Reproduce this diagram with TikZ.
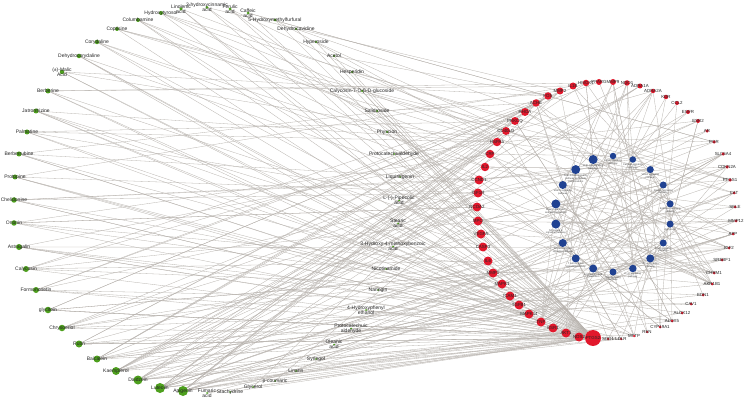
\documentclass[tikz,border=0pt]{standalone}
\usepackage{fontspec}
\setmainfont{Liberation Sans}
\usetikzlibrary{backgrounds}
\definecolor{gcol}{RGB}{78,160,30}
\definecolor{rcol}{RGB}{226,24,44}
\definecolor{bcol}{RGB}{32,66,146}
\definecolor{ecol}{RGB}{184,179,174}
\begin{document}
\begin{tikzpicture}[x=1pt,y=-1pt,
  gn/.style={circle,fill=gcol,inner sep=0pt,minimum size=#1pt},
  rn/.style={circle,fill=rcol,inner sep=0pt,minimum size=#1pt},
  bn/.style={circle,fill=bcol,inner sep=0pt,minimum size=#1pt},
  glab/.style={font=\fontsize{5}{5.4}\selectfont,inner sep=0pt,align=center,text=black!85},
  rlab/.style={font=\fontsize{4.4}{5}\selectfont,inner sep=0pt,text=black!85},
  blab/.style={font=\fontsize{2.5}{2.8}\selectfont,inner sep=0.3pt,align=center,text=black!70},
  lnk/.style={draw=ecol,line width=0.3pt}]
\useasboundingbox (0,0) rectangle (745,401);
% ---------------- compounds (green)
\foreach \n/\x/\y/\s/\lab in {
1/183/391/10/Apigenin,
2/160/388/10/Luteolin,
3/138/380/9/Daidzein,
4/116/371/8/Kaempferol,
5/97/359/7/Baicalein,
6/79/344/7/Rutin,
7/62/328/6.5/Chrysoeriol,
8/48/310/6.5/glycitein,
9/36/290/6/Formononetin,
10/26/269/6/Calycosin,
11/19/247/6/Astragalin,
12/14/223/5.5/Ononin,
13/14/200/5.5/Chelidonine,
14/15/177/5/Protopine,
15/19/154/5/Berberrubine,
16/27/132/5/Palmatine,
17/36/111/5/Jatrorrhizine,
18/48/91/5/Berberine,
19/62/72/4.5/{(±)-Malic\\Acid},
20/79/56/4.5/Dehydrocorydaline,
21/97/42/4.5/Corydaline,
22/117/29/4/Coptisine,
23/138/20/4/Columbamine,
24/161/13/4/Hydroxytyrosol,
25/181/9/3.5/{Linolenic\\acid},
26/207/7.5/3/{3-hydroxycinnamic\\acid},
27/230/9/3/{Ferulic\\acid},
28/248/13/3/{Caffeic\\acid},
29/275/20/3/5-Hydroxymethylfurfural,
30/296/29/2.5/Dehydrocavidine,
31/316/42/2.5/Hyperoside,
32/334/56/2.5/Acetol,
33/352/72/2.5/Hesperidin,
34/362/91/2.5/Calycosin-7-O-β-D-glucoside,
35/377/111/2.5/Salidroside,
36/387/132/2.5/Physcion,
37/394/154/2/Protocatechualdehyde,
38/400/177/2/Liquiritigenin,
39/399/200.5/2/{L-(-)-Pipecolic\\acid},
40/398/223.5/2/{Stearic\\acid},
41/393/246.5/2/{3-Hydroxy-4-methoxybenzoic\\acid},
42/386/269/2/Nicotinamide,
43/378/290/2/Naringin,
44/366/310/2/{4-Hydroxyphenyl\\ethanol},
45/351/328.5/2/{Protocatechuic\\aldehyde},
46/334/344.5/2/{Oleanic\\acid},
47/316/359/2/Syringol,
48/296/371/2/Linarin,
49/275/381/2/p-coumaric,
50/253/387/2/Glycerol,
51/230/392/2/Stachydrine,
52/207/393/2/{Fumaric\\acid}}{
  \node[gn=\s] (g\n) at (\x,\y) {};
  \node[glab] at (\x,\y) {\lab};
}
% ---------------- targets (red)
\foreach \n/\x/\y/\s/\lab in {
1/593/338/16/PTGS2,
2/579/337/9/NOS2,
3/566/333/9/AKT1,
4/553/328/9/ESR1,
5/541/322/9/TNF,
6/529/314/9/MAPK14,
7/519/305/9/TGFB1,
8/510/296/9/ICAM1,
9/502/284/9/MAPK1,
10/493/273/9/MMP1,
11/488/261/9/IL6,
12/483/247/9/CASP3,
13/481/234/9/VEGFA,
14/478/221/9/MPO,
15/477/207/9/NCOA2,
16/478/193/9/IGF1R,
17/479/180/9/CCND1,
18/485/167/8.5/IL2,
19/490/154/8.5/CRP,
20/497/142/8.5/HSPA5,
21/506/131/8/CD40LG,
22/515/121/8/PRKCQ,
23/525/112/8/RHOA,
24/536/103/7.5/ACHE,
25/548/96/7.5/FOS,
26/560/91/7/MMP2,
27/573/86/7/IL1B,
28/586/83/6.5/HMOX1,
29/599/82/6/PPARG,
30/613/82/6/MMP9,
31/627/83/5.5/NQO1,
32/640/86/5/ADRA1A,
33/653/91/4.5/ADRA2A,
34/666/97/4.5/KDR,
35/677/103/4/CCL2,
36/688/112/4/EGFR,
37/698/121/4/ESR2,
38/707/131/3.5/AR,
39/714/142/3.5/PGR,
40/723/154/3.5/SLC6A4,
41/727/167/3.5/CDKN2A,
42/730/180/3.5/PTGS1,
43/734/193/3/CAT,
44/735/207/3/SELE,
45/736/221/3/MMP12,
46/733/234/3/APP,
47/729/248/3/IGF2,
48/722/260/3/SREBF1,
49/714/273/3/CHRM1,
50/712/284/3/AKR1B1,
51/703/295/3/EDN1,
52/691/304/3/CAV1,
53/682/313/3/ALOX12,
54/672/321/3/ALOX5,
55/660/327/3/CYP19A1,
56/647/332/2.5/REN,
57/634/336/2.5/MTTP,
58/621/339/2.5/LDLR,
59/608/339/2.5/SOD1}{
  \node[rn=\s] (r\n) at (\x,\y) {};
  \node[rlab] at (\x,\y) {\lab};
}
% ---------------- pathways (blue)
\foreach \i/\s/\lab in {
0/7/{TNF signaling\\pathway},
1/7.5/{IL-17 signaling\\pathway},
2/8/{HIF-1 signaling\\pathway},
3/7/{FoxO signaling\\pathway},
4/7/{Apoptosis},
5/7/{Estrogen signaling\\pathway},
6/7/{Relaxin signaling\\pathway},
7/7/{VEGF signaling\\pathway},
8/6.5/{Calcium signaling\\pathway},
9/6.5/{cAMP signaling\\pathway},
10/9/{PI3K-Akt signaling\\pathway},
11/9/{AGE-RAGE signaling\\pathway in diabetic\\complications},
12/8/{MAPK signaling\\pathway},
13/9/{Fluid shear stress\\and atherosclerosis},
14/9/{NF-kappa B\\signaling pathway},
15/8/{Toll-like receptor\\signaling pathway},
16/8/{T cell receptor\\signaling pathway},
17/8/{Arachidonic acid\\metabolism}}{
  \pgfmathsetmacro{\ang}{90-20*\i}
  \path (613,214) ++(\ang:58) node[bn=\s] (b\i) {};
  \node[blab,anchor=north] at (b\i.south) {\lab};
}
% ---------------- connectors
\pgfmathsetseed{4711}
\begin{scope}[on background layer]
\fill[white] (0,0) rectangle (745,401);
\foreach \n/\d in {1/13,2/13,3/10,4/10,5/8,6/7,7/6,8/6,9/5,10/5,11/5,12/5,13/5,
  14/4,15/4,16/4,17/4,18/4,19/3,20/3,21/3,22/3,23/3,24/3,25/2,26/2,27/2,28/2,
  29/1,30/1,31/1,32/1,33/1,34/1,35/1,36/1,37/1,38/1,39/1,40/1,41/1,42/1,43/1,
  44/1,45/1,46/1,47/1,48/1,49/1,50/1,51/1,52/1}{
  \draw[lnk] (g\n) -- (r1);
  \foreach \k in {1,...,\d}{
    \pgfmathrandominteger{\rr}{1}{85}
    \pgfmathtruncatemacro{\rt}{\rr>59 ? \rr-59 : \rr}
    \draw[lnk] (g\n) -- (r\rt);
  }
}
\foreach \i in {0,...,17}{
  \foreach \k in {1,...,8}{
    \pgfmathrandominteger{\rt}{1}{59}
    \draw[lnk] (b\i) -- (r\rt);
  }
}
\end{scope}
\end{tikzpicture}
\end{document}
